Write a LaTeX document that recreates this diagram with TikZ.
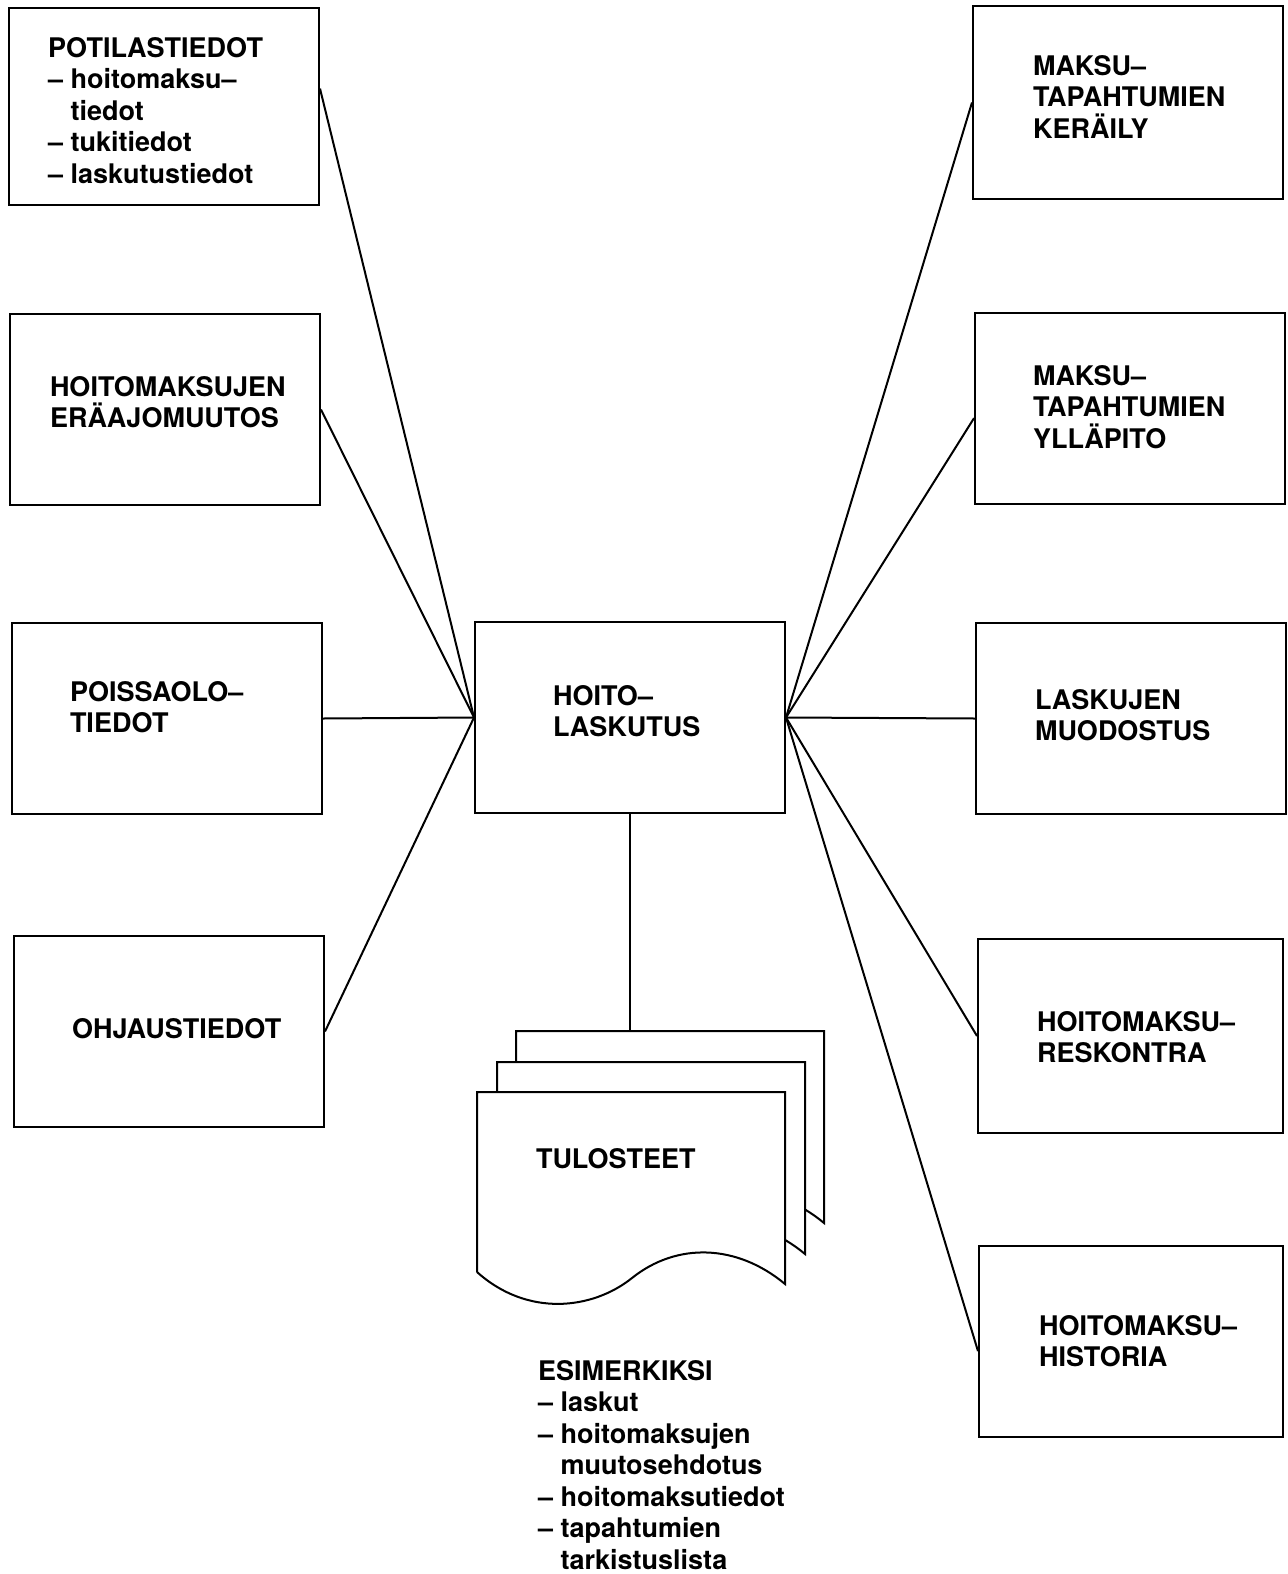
\documentclass[tikz,border=0pt]{standalone}
\usepackage{fontspec}
\setmainfont{TeX Gyre Heros}
\usepackage{tikz}
\usetikzlibrary{calc,positioning}

\begin{document}
\begin{tikzpicture}[x=0.5pt,y=-0.5pt,line width=1pt,
    font=\fontsize{13.5}{15.75}\selectfont\bfseries,
    laatikko/.style={draw, anchor=north west, inner sep=0pt,
      minimum width=155pt, minimum height=95.5pt},
    teksti/.style={anchor=north west, inner sep=0pt, align=left}
    ]
    \useasboundingbox (0,0) rectangle (1287,1574);
    % laatikot vasemmalla
    \node[laatikko, minimum height=98.5pt] (L1) at (8,7) {};
    \node[laatikko] (L2) at (9,313) {};
    \node[laatikko] (L3) at (11,622) {};
    \node[laatikko] (L4) at (13,935) {};
    % keskella
    \node[laatikko] (C) at (474,621) {};
    % laatikot oikealla
    \node[laatikko, minimum height=96.5pt] (R1) at (972,5) {};
    \node[laatikko] (R2) at (974,312) {};
    \node[laatikko] (R3) at (975,622) {};
    \node[laatikko, minimum width=152.5pt, minimum height=97pt] (R4) at (977,938) {};
    \node[laatikko, minimum width=152pt, minimum height=95.5pt] (R5) at (978,1245) {};

    % tekstit
    \node[teksti] (tL1) at (47,36) {POTILASTIEDOT\\-- hoitomaksu--\\\hphantom{--\ }tiedot\\-- tukitiedot\\-- laskutustiedot};
    \node[teksti] (tL2) at (49,375) {HOITOMAKSUJEN\\ERÄAJOMUUTOS};
    \node[teksti] (tL3) at (69,680) {POISSAOLO--\\TIEDOT};
    \node[teksti] (tL4) at (71,1017) {OHJAUSTIEDOT};
    \node[teksti] (tC) at (552,684) {HOITO--\\LASKUTUS};
    \node[teksti] (tR1) at (1032,54) {MAKSU--\\TAPAHTUMIEN\\KERÄILY};
    \node[teksti] (tR2) at (1032,364) {MAKSU--\\TAPAHTUMIEN\\YLLÄPITO};
    \node[teksti] (tR3) at (1034,688) {LASKUJEN\\MUODOSTUS};
    \node[teksti] (tR4) at (1036,1010) {HOITOMAKSU--\\RESKONTRA};
    \node[teksti] (tR5) at (1038,1314) {HOITOMAKSU--\\HISTORIA};

    % tulosteet, kolme sivua
    \foreach \dx/\dy in {39/-61, 20/-30, 0/0} {
      \draw[fill=white, shift={(\dx,\dy)}] (477,1272) -- (477,1092) -- (785,1092) -- (785,1284)
        .. controls (737,1244) and (677,1242) .. (632,1278)
        .. controls (592,1310) and (527,1317) .. (477,1272);
    }
    \coordinate (pino) at (516,1031);
    \node[teksti] (tulosteet) at (535,1147) {TULOSTEET};
    \node[teksti] (esim) at (537,1359) {ESIMERKIKSI\\-- laskut\\-- hoitomaksujen\\\hphantom{--\ }muutosehdotus\\-- hoitomaksutiedot\\-- tapahtumien\\\hphantom{--\ }tarkistuslista};

    % yhteydet
    \draw (C.west) -- ($(L1.north east)!0.41!(L1.south east)$);
    \foreach \b in {L2,L3,L4}
      \draw (C.west) -- (\b.east);
    \draw (C.east) -- (R1.west);
    \draw (C.east) -- ($(R2.north west)!0.55!(R2.south west)$);
    \draw (C.east) -- (R3.west);
    \draw (C.east) -- (R4.west);
    \draw (C.east) -- ($(R5.north west)!0.55!(R5.south west)$);
    \draw (C.south) -- (C.south |- pino);
  \end{tikzpicture}
\end{document}
